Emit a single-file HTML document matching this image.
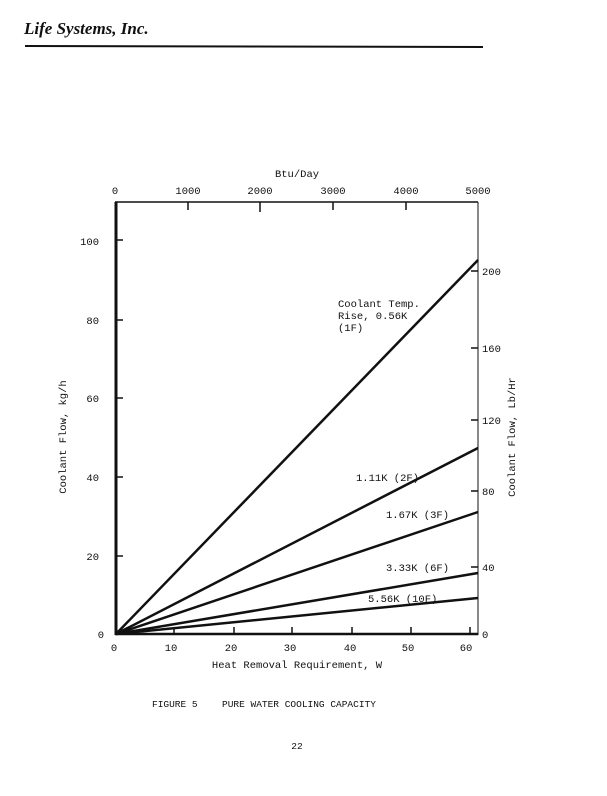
<!DOCTYPE html>
<html><head><style>
body{margin:0;background:#fff;width:607px;height:791px;overflow:hidden}
svg text{font-family:"Liberation Mono",monospace;fill:#111}
</style></head><body>
<svg width="607" height="791" viewBox="0 0 607 791" xmlns="http://www.w3.org/2000/svg">
<text x="24" y="34" style="font-family:'Liberation Serif',serif;font-style:italic;font-weight:bold;font-size:17px">Life Systems, Inc.</text>
<line x1="25" y1="46" x2="483" y2="47" stroke="#111" stroke-width="2"/>

<text x="297" y="177" font-size="10.5" text-anchor="middle">Btu/Day</text>
<g font-size="10.5" text-anchor="middle">
<text x="115" y="194">0</text><text x="188" y="194">1000</text><text x="260" y="194">2000</text><text x="333" y="194">3000</text><text x="406" y="194">4000</text><text x="478" y="194">5000</text>
</g>
<line x1="115" y1="202" x2="478" y2="202" stroke="#111" stroke-width="1.5"/>
<line x1="116" y1="202" x2="116" y2="635" stroke="#111" stroke-width="3"/>
<line x1="478" y1="202" x2="478" y2="635" stroke="#111" stroke-width="1"/>
<line x1="115" y1="634" x2="478" y2="634" stroke="#111" stroke-width="2.5"/>
<g stroke="#111" stroke-width="1.5">
<line x1="188" y1="202" x2="188" y2="210"/><line x1="260" y1="202" x2="260" y2="212"/><line x1="333" y1="202" x2="333" y2="210"/><line x1="406" y1="202" x2="406" y2="210"/>
<line x1="116" y1="240" x2="123" y2="240"/><line x1="116" y1="320" x2="123" y2="320"/><line x1="116" y1="398" x2="123" y2="398"/><line x1="116" y1="477" x2="123" y2="477"/><line x1="116" y1="556" x2="123" y2="556"/>
<line x1="174" y1="634" x2="174" y2="627"/><line x1="234" y1="634" x2="234" y2="627"/><line x1="292" y1="634" x2="292" y2="627"/><line x1="352" y1="634" x2="352" y2="627"/><line x1="411" y1="634" x2="411" y2="627"/><line x1="470" y1="634" x2="470" y2="627"/>
<line x1="471" y1="271" x2="478" y2="271"/><line x1="471" y1="348" x2="478" y2="348"/><line x1="471" y1="420" x2="478" y2="420"/><line x1="471" y1="491" x2="478" y2="491"/><line x1="471" y1="567" x2="478" y2="567"/>
</g>
<g font-size="10.5" text-anchor="end">
<text x="99" y="245">100</text><text x="99" y="324">80</text><text x="99" y="402">60</text><text x="99" y="481">40</text><text x="99" y="560">20</text><text x="104" y="638">0</text>
</g>
<g font-size="10.5">
<text x="482" y="275">200</text><text x="482" y="352">160</text><text x="482" y="424">120</text><text x="482" y="495">80</text><text x="482" y="571">40</text><text x="482" y="638">0</text>
</g>
<g font-size="10.5" text-anchor="middle">
<text x="114" y="651">0</text><text x="171" y="651">10</text><text x="231" y="651">20</text><text x="290" y="651">30</text><text x="350" y="651">40</text><text x="408" y="651">50</text><text x="466" y="651">60</text>
</g>
<text x="297" y="668" font-size="10.5" text-anchor="middle">Heat Removal Requirement, W</text>
<text transform="translate(66,437) rotate(-90)" font-size="10.5" text-anchor="middle">Coolant Flow, kg/h</text>
<text transform="translate(515,437) rotate(-90)" font-size="10.5" text-anchor="middle">Coolant Flow, Lb/Hr</text>

<g stroke="#111" stroke-width="2.5" fill="none">
<line x1="116" y1="634" x2="478" y2="260"/>
<line x1="116" y1="634" x2="478" y2="448"/>
<line x1="116" y1="634" x2="478" y2="512"/>
<line x1="116" y1="634" x2="478" y2="573"/>
<line x1="116" y1="634" x2="478" y2="598"/>
</g>
<g font-size="10.5">
<text x="338" y="307">Coolant Temp.</text>
<text x="338" y="319">Rise, 0.56K</text>
<text x="338" y="331">(1F)</text>
<text x="356" y="481">1.11K (2F)</text>
<text x="386" y="518">1.67K (3F)</text>
<text x="386" y="571">3.33K (6F)</text>
<text x="368" y="602">5.56K (10F)</text>
</g>
<text x="152" y="707" font-size="9.5">FIGURE 5</text>
<text x="222" y="707" font-size="9.5">PURE WATER COOLING CAPACITY</text>
<text x="297" y="749" font-size="9.5" text-anchor="middle">22</text>
</svg>
</body></html>
